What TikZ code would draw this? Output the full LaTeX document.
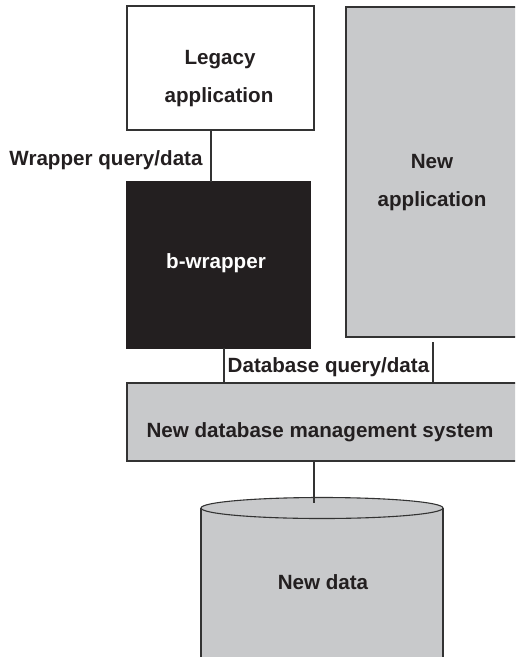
\documentclass[tikz,border=0pt]{standalone}
\usepackage{fontspec}
\setmainfont{Liberation Sans}
\usetikzlibrary{calc}
\definecolor{boxgray}{HTML}{C8C9CB}
\definecolor{boxblack}{HTML}{231F20}
\definecolor{linegray}{HTML}{333333}
\begin{document}
\begin{tikzpicture}[x=1pt,y=-1pt,
  every node/.style={inner sep=0pt, outer sep=0pt},
  boxstyle/.style={draw=linegray, line width=1.2pt, rectangle},
  wire/.style={draw=linegray, line width=1.1pt},
  lbl/.style={font=\fontsize{20.6}{24}\selectfont\bfseries, text=boxblack, anchor=base},
  wlbl/.style={lbl, text=white}]
\useasboundingbox (0,0) rectangle (515,657);
\clip (0,0) rectangle (515,657);
% boxes
\node[boxstyle, fill=white, minimum width=187pt, minimum height=124pt] (legacy) at (220.5,68) {};
\node[boxstyle, fill=boxgray, minimum width=190pt, minimum height=330pt] (newapp) at (441,172) {};
\node[boxstyle, draw=boxblack, fill=boxblack, minimum width=183pt, minimum height=166pt] (wrapper) at (218.5,265) {};
\node[boxstyle, fill=boxgray, minimum width=400pt, minimum height=78pt] (dbms) at (327,422) {};
% cylinder
\coordinate (cylL) at (201,508);
\coordinate (cylR) at (443,508);
\fill[boxgray] (201,508) rectangle (443,670);
\draw[wire, fill=boxgray] (322,508) ellipse [x radius=121, y radius=10.5];
\draw[wire] (201,670) -- (cylL);
\draw[wire] (443,670) -- (cylR);
\coordinate (cyltop) at (314,503);
% labels
\node[lbl] (t1) at (220,64) {Legacy};
\node[lbl] (t2) at (219,102) {application};
\node[lbl] (t3) at (432,168) {New};
\node[lbl] (t4) at (432,206) {application};
\node[wlbl] (t5) at (216,268) {b-wrapper};
\node[lbl] (t6) at (106,165) {Wrapper query/data};
\node[lbl] (t7) at (328.5,372) {Database query/data};
\node[lbl] (t8) at (320,437) {New database management system};
\node[lbl] (t9) at (323,589) {New data};
% connectors
\coordinate (wx) at (211,0);
\coordinate (dl) at (224,0);
\coordinate (dr) at (433,342);
\coordinate (cx) at (314,0);
\draw[wire] (legacy.south -| wx) -- (wrapper.north -| wx);
\draw[wire] (wrapper.south -| dl) -- (dbms.north -| dl);
\draw[wire] (dr) -- (dbms.north -| dr);
\draw[wire] (dbms.south -| cx) -- (cyltop);
\end{tikzpicture}
\end{document}
